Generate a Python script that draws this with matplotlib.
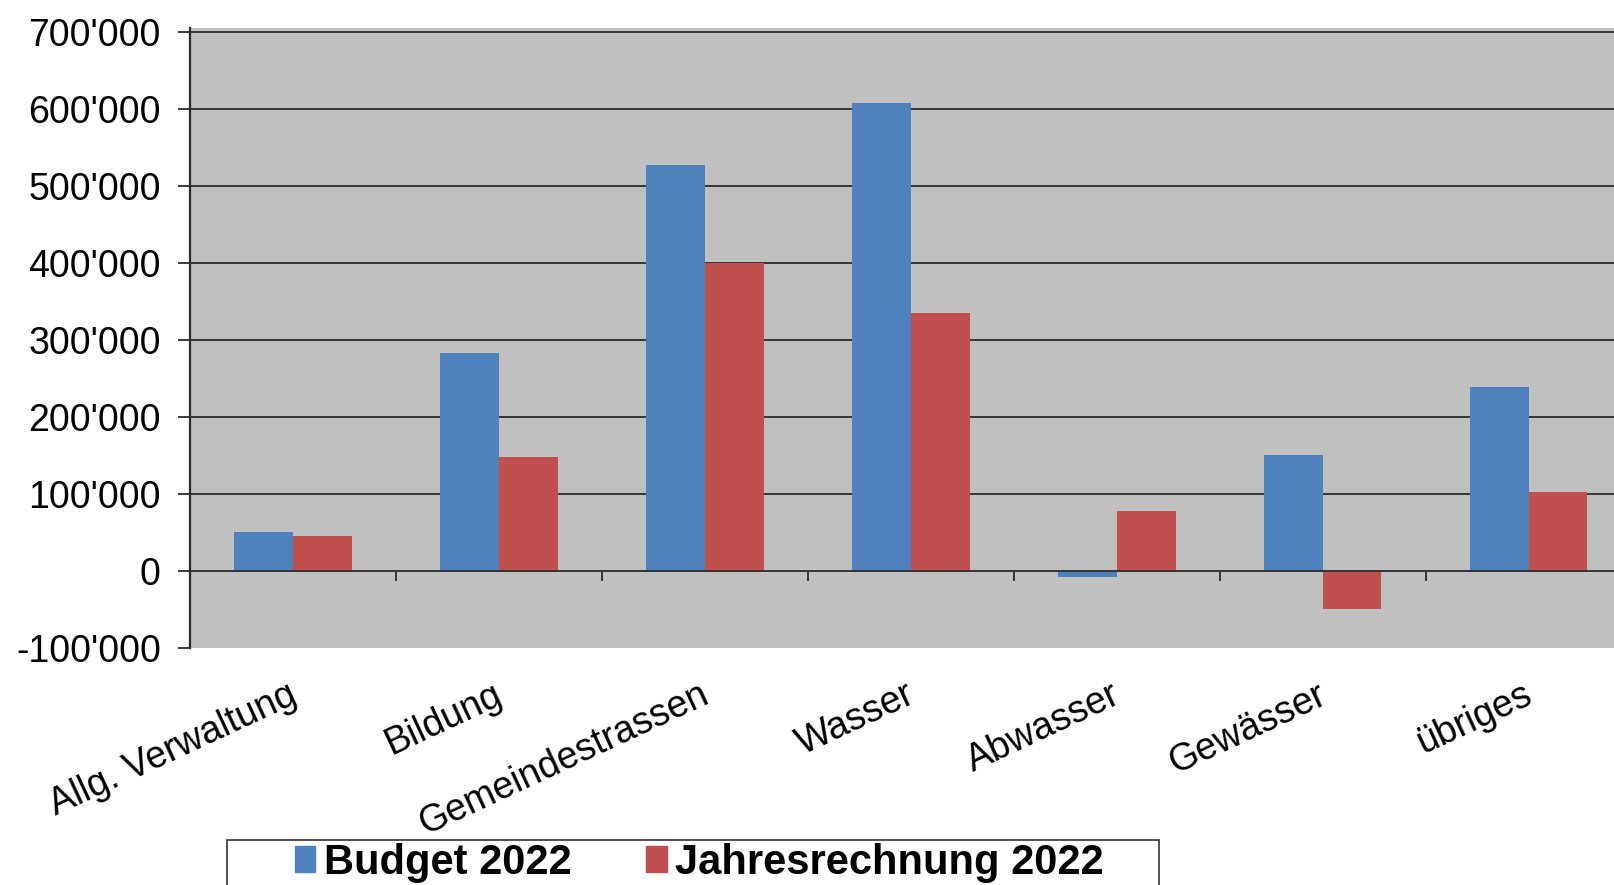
import matplotlib
matplotlib.use('Agg')
import matplotlib.pyplot as plt
from matplotlib.ticker import FuncFormatter
from matplotlib.patches import Patch, Rectangle
import matplotlib.transforms as mtransforms
import numpy as np

# values (CHF)
categories = ['Allg. Verwaltung', 'Bildung', 'Gemeindestrassen', 'Wasser',
              'Abwasser', 'Gewässer', 'übriges']
budget = [50000, 283000, 527000, 607000, -8000, 150000, 238000]
rechnung = [45000, 148000, 400000, 334000, 77000, -50000, 102000]
series_names = ['Budget 2022', 'Jahresrechnung 2022']

blue = '#4F81BD'
red = '#C0504D'
grid_col = '#2b2b2b'

plt.rcParams['font.family'] = ['Liberation Sans', 'DejaVu Sans']

fig = plt.figure(figsize=(16.15, 8.85), dpi=100)
ax = fig.add_axes([0.1176, 0.2681, 0.8824, 0.7000])
ax.set_facecolor('#C0C0C0')

x = np.arange(len(categories))
w = 0.286
ax.bar(x - w / 2, budget, w, color=blue, zorder=3)
ax.bar(x + w / 2, rechnung, w, color=red, zorder=3)

ax.set_ylim(-100000, 704400)
ax.set_xlim(-0.5, 6.42)
ax.set_yticks(np.arange(-100000, 700001, 100000))
ax.yaxis.set_major_formatter(FuncFormatter(lambda v, p: f'{int(v):,}'.replace(',', "'")))

# horizontal grid lines
for v in np.arange(100000, 700001, 100000):
    ax.axhline(v, color=grid_col, lw=1.3, zorder=1)

# category axis sitting at zero, with ticks between categories
zero_frac = (0 - (-100000)) / (704400 - (-100000))
cat_ax = ax.secondary_xaxis(zero_frac)
cat_ax.set_xticks(np.arange(0.5, len(categories) - 0.5, 1.0))
cat_ax.set_xticklabels([])
cat_ax.tick_params(length=7, width=1.3, color=grid_col, direction='out')
cat_ax.spines['bottom'].set_color(grid_col)
cat_ax.spines['bottom'].set_linewidth(1.3)
cat_ax.set_zorder(4)

for s in ['top', 'right', 'bottom']:
    ax.spines[s].set_visible(False)
ax.spines['left'].set_color(grid_col)
ax.spines['left'].set_linewidth(1.6)

ax.tick_params(axis='y', length=9, width=1.3, color=grid_col, pad=12, labelsize=27)
ax.set_xticks(x)
ax.set_xticklabels(categories, rotation=25, ha='right', rotation_mode='anchor', fontsize=27)
ax.tick_params(axis='x', length=0, pad=21)
# nudge category labels a little to the left
shift = mtransforms.ScaledTranslation(-6 / 100, 0, fig.dpi_scale_trans)
for lab in ax.get_xticklabels():
    lab.set_transform(lab.get_transform() + shift)

# legend box at the bottom, cut by the figure edge
fig.patches.append(Rectangle((227 / 1615, -0.05), (1159 - 227) / 1615, 0.05 + 45 / 885,
                             transform=fig.transFigure, facecolor='white',
                             edgecolor='#333333', lw=1.2))
handles = [Patch(color=blue), Patch(color=red)]
leg = fig.legend(handles, series_names, loc='center', bbox_to_anchor=(0.433, 0.025),
                 ncol=2, frameon=False,
                 prop={'weight': 'bold', 'size': 30},
                 handlelength=0.5, handleheight=0.6,
                 handletextpad=0.2, columnspacing=1.8, borderpad=0.1)

fig.savefig('out.png', dpi=100)
